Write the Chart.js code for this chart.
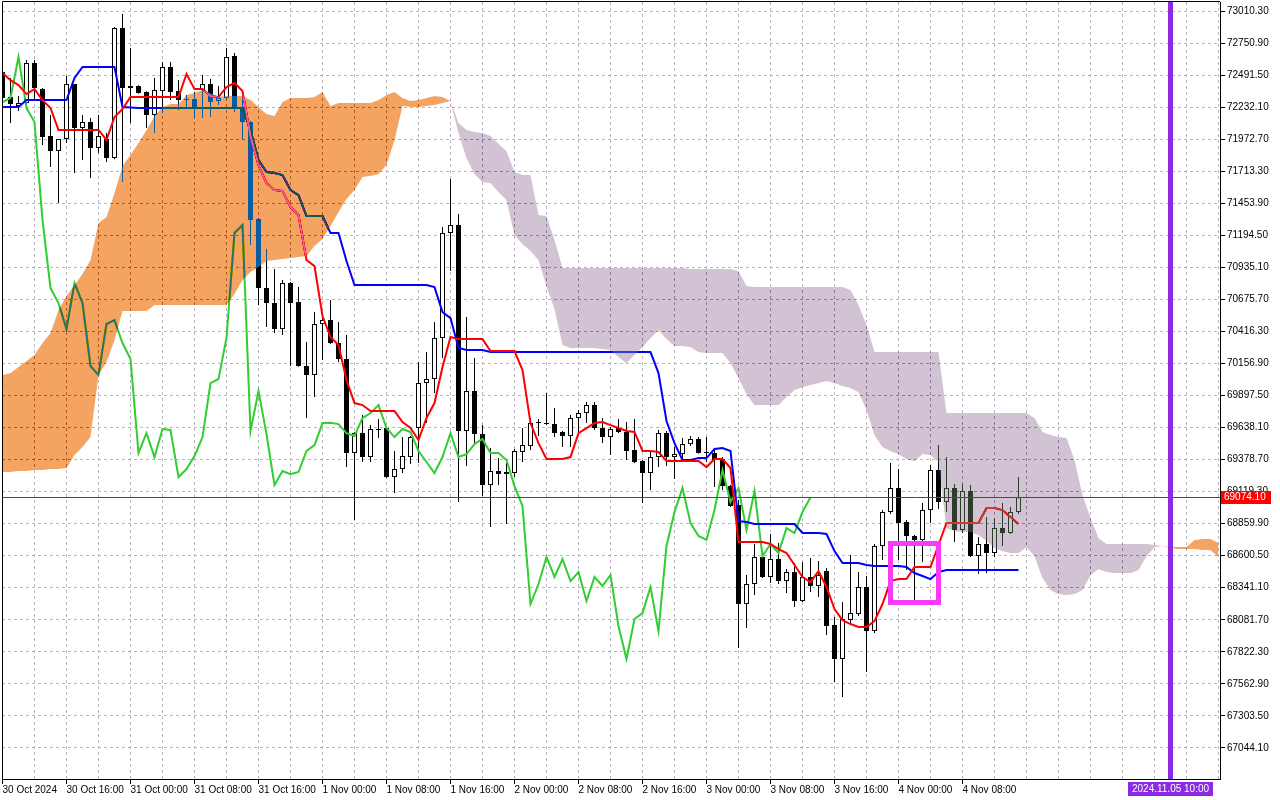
<!DOCTYPE html>
<html>
<head>
<meta charset="utf-8">
<title>BTCUSD H1 Ichimoku</title>
<script src="https://cdn.jsdelivr.net/npm/chart.js@4.4.1/dist/chart.umd.min.js"></script>
<style>
  html, body { margin: 0; padding: 0; background: #ffffff; }
  #wrap { width: 1280px; height: 800px; }
</style>
</head>
<body>
<div id="wrap"><canvas id="chart" width="1280" height="800"></canvas></div>
<script>
  // hourly candles, first bar = 30 Oct 08:00, last bar = 4 Nov 15:00
  const opens = [
    72516, 72314, 72241, 72265, 72589, 72378, 71998, 71877, 71974, 72419,
    72063, 72111, 71901, 71974, 71820, 72872, 72403, 72403, 72354, 72168,
    72362, 72557, 72362, 72297, 72297, 72370, 72419, 72281, 72306, 72646,
    72225, 72111, 71326, 70767, 70646, 70435, 70808, 70654, 70136, 70063,
    70476, 70508, 70322, 70193, 69432, 69593, 69399, 69626, 69634, 69237,
    69302, 69399, 69634, 69998, 70031, 70363, 71213, 71277, 69610, 69933,
    69585, 69172, 69286, 69261, 69270, 69440, 69488, 69674, 69674, 69666,
    69602, 69569, 69715, 69755, 69820, 69634, 69561, 69634, 69602, 69456,
    69367, 69270, 69399, 69593, 69399, 69423, 69504, 69545, 69440, 69432,
    69383, 69164, 69011, 68209, 68371, 68590, 68428, 68573, 68395, 68468,
    68233, 68428, 68355, 68476, 68039, 67764, 68080, 68128, 68347, 67990,
    68679, 68954, 69148, 68873, 68760, 68727, 68970, 69294, 69035, 69148,
    68808, 69124, 68598, 68695, 68622, 68824, 68784, 68954
  ];
  const highs = [
    72548, 72468, 72322, 72613, 72613, 72387, 72168, 71974, 72484, 72419,
    72168, 72144, 72168, 72022, 72880, 72986, 72710, 72410, 72360, 72468,
    72597, 72597, 72451, 72330, 72354, 72492, 72459, 72403, 72710, 72670,
    72314, 72115, 71330, 71083, 70921, 70832, 70816, 70775, 70330, 70573,
    70565, 70670, 70492, 70387, 69600, 69739, 69658, 69707, 69642, 69448,
    69561, 69569, 70168, 70249, 70492, 71261, 71650, 71366, 70533, 70201,
    69658, 69472, 69391, 69351, 69464, 69634, 69715, 69707, 69917, 69796,
    69610, 69739, 69780, 69844, 69844, 69715, 69642, 69707, 69682, 69707,
    69375, 69448, 69618, 69610, 69480, 69553, 69569, 69561, 69561, 69456,
    69399, 69172, 69051, 68444, 68695, 68598, 68776, 68703, 68492, 68541,
    68549, 68581, 68557, 68500, 68104, 68225, 68606, 68468, 68436, 68695,
    68970, 69351, 69302, 68889, 68768, 69027, 69334, 69496, 69399, 69181,
    69181, 69172, 68751, 68913, 68905, 69027, 68994, 69237
  ];
  const lows = [
    72257, 72103, 72200, 72208, 72289, 71925, 71747, 71456, 71941, 71698,
    71804, 71658, 71860, 71787, 71810, 71626, 72103, 72340, 72063, 72022,
    72184, 72289, 72208, 72225, 72144, 72144, 72152, 72249, 72289, 72192,
    71966, 71115, 70630, 70452, 70403, 70387, 70136, 70130, 69715, 69885,
    70184, 70314, 70168, 69318, 68889, 69359, 69359, 69553, 69230, 69108,
    69270, 69342, 69351, 69674, 69917, 70201, 70905, 69035, 69326, 69512,
    69083, 68832, 69172, 68857, 69237, 69359, 69456, 69569, 69658, 69561,
    69480, 69480, 69602, 69674, 69618, 69512, 69415, 69593, 69375, 69351,
    69027, 69132, 69318, 69326, 69221, 69375, 69488, 69425, 69359, 69156,
    69132, 68994, 67853, 68015, 68282, 68419, 68379, 68371, 68298, 68185,
    68225, 68306, 68266, 67958, 67577, 67456, 68047, 68112, 67658, 67974,
    68565, 68938, 68565, 68484, 68233, 68549, 68865, 68978, 68954, 68711,
    68784, 68590, 68452, 68460, 68590, 68679, 68776, 68938
  ];
  const closes = [
    72306, 72257, 72265, 72589, 72387, 71990, 71877, 71974, 72419, 72063,
    72111, 71901, 71998, 71820, 72872, 72387, 72387, 72346, 72168, 72370,
    72557, 72354, 72289, 72289, 72225, 72419, 72273, 72306, 72638, 72225,
    72111, 71318, 70767, 70646, 70435, 70808, 70646, 70136, 70063, 70476,
    70508, 70322, 70193, 69432, 69593, 69399, 69626, 69618, 69237, 69302,
    69407, 69561, 69998, 70031, 70363, 71213, 71277, 69610, 69933, 69585,
    69172, 69286, 69261, 69278, 69448, 69496, 69674, 69676, 69666, 69593,
    69569, 69715, 69755, 69820, 69634, 69561, 69626, 69602, 69448, 69359,
    69270, 69399, 69593, 69399, 69423, 69504, 69545, 69432, 69432, 69375,
    69164, 69002, 68209, 68371, 68590, 68428, 68573, 68395, 68468, 68234,
    68428, 68355, 68444, 68031, 67764, 68088, 68136, 68347, 67990, 68679,
    68954, 69148, 68865, 68760, 68728, 68970, 69294, 69035, 69148, 68808,
    69124, 68598, 68695, 68622, 68824, 68784, 68954, 69074.1
  ];

  // Ichimoku lines
  const tenkan = [
    72508, 72451, 72411, 72338, 72378, 72289, 72225, 72047, 72047, 72047,
    72047, 72047, 72047, 71966, 72152, 72217, 72314, 72314, 72314, 72314,
    72314, 72314, 72314, 72500, 72378, 72378, 72322, 72314, 72395, 72427,
    72362, 71998, 71763, 71617, 71561, 71553, 71423, 71358, 70994, 70945,
    70541, 70371, 70306, 70023, 69836, 69820, 69772, 69772, 69772, 69772,
    69682, 69634, 69537, 69715, 69836, 70128, 70371, 70354, 70354, 70354,
    70354, 70257, 70257, 70257, 70257, 70103, 69674, 69512, 69383, 69383,
    69383, 69399, 69593, 69634, 69674, 69682, 69658, 69634, 69610, 69602,
    69448, 69448, 69440, 69367, 69367, 69367, 69367, 69367, 69318, 69383,
    69383, 69310, 68711, 68711, 68711, 68711, 68695, 68654, 68622, 68525,
    68428, 68387, 68476, 68347, 68168, 68079, 68047, 68023, 68023, 68071,
    68209, 68395, 68411, 68411, 68509, 68509, 68509, 68687, 68865, 68865,
    68865, 68865, 68865, 68986, 68986, 68970, 68913, 68857
  ];
  const kijun = [
    72233, 72233, 72233, 72289, 72289, 72289, 72289, 72289, 72289, 72468,
    72557, 72557, 72557, 72557, 72557, 72233, 72229, 72225, 72225, 72225,
    72225, 72225, 72225, 72225, 72225, 72225, 72225, 72225, 72225, 72225,
    72225, 72047, 71804, 71706, 71698, 71682, 71561, 71520, 71350, 71350,
    71350, 71213, 71213, 70986, 70792, 70792, 70792, 70792, 70792, 70792,
    70792, 70792, 70792, 70792, 70775, 70573, 70524, 70282, 70265, 70265,
    70265, 70249, 70249, 70249, 70249, 70249, 70249, 70249, 70249, 70249,
    70249, 70249, 70249, 70249, 70249, 70249, 70249, 70249, 70249, 70249,
    70249, 70249, 70079, 69691, 69512, 69375, 69375, 69391, 69391, 69464,
    69472, 69448, 68881, 68873, 68857, 68857, 68857, 68857, 68857, 68857,
    68784, 68784, 68784, 68776, 68638, 68541, 68541, 68541, 68525, 68517,
    68517, 68517, 68517, 68509, 68460, 68436, 68411, 68468, 68484, 68484,
    68484, 68484, 68484, 68484, 68484, 68484, 68484, 68484
  ];
  const chikou = [
    72273, 72306, 72638, 72225, 72111, 71318, 70767, 70646, 70435, 70808,
    70646, 70136, 70063, 70476, 70508, 70322, 70193, 69432, 69593, 69399,
    69626, 69618, 69237, 69302, 69407, 69561, 69998, 70031, 70363, 71213,
    71277, 69610, 69933, 69585, 69172, 69286, 69261, 69278, 69448, 69496,
    69674, 69676, 69666, 69593, 69569, 69715, 69755, 69820, 69634, 69561,
    69626, 69602, 69448, 69359, 69270, 69399, 69593, 69399, 69423, 69504,
    69545, 69432, 69432, 69375, 69164, 69002, 68209, 68371, 68590, 68428,
    68573, 68395, 68468, 68234, 68428, 68355, 68444, 68031, 67764, 68088,
    68136, 68347, 67990, 68679, 68954, 69148, 68865, 68760, 68728, 68970,
    69294, 69035, 69148, 68808, 69124, 68598, 68695, 68622, 68824, 68784,
    68954, 69074.1
  ];
  const spanA = [
    70063, 70079, 70128, 70176, 70225, 70322, 70403, 70589, 70703, 70792,
    70881, 70994, 71294, 71342, 71536, 71755, 71844, 71941, 72047, 72160,
    72233, 72257, 72257, 72330, 72346, 72370, 72346, 72314, 72322, 72322,
    72322, 72289, 72233, 72176, 72160, 72273, 72306, 72306, 72306, 72314,
    72354, 72241, 72265, 72265, 72265, 72265, 72265, 72289, 72330, 72354,
    72306, 72281, 72289, 72306, 72322, 72314, 72281, 72022, 71820, 71690,
    71626, 71617, 71545, 71480, 71196, 71124, 71067, 70994, 70783, 70597,
    70306, 70282, 70282, 70282, 70282, 70274, 70265, 70209, 70160, 70225,
    70290, 70363, 70427, 70354, 70298, 70298, 70290, 70249, 70241, 70241,
    70241, 70160, 70039, 69909, 69820, 69820, 69820, 69820, 69885, 69942,
    69966, 69982, 69998, 70014, 69998, 69974, 69958, 69925, 69780, 69577,
    69480, 69448, 69423, 69383, 69367, 69423, 69415, 69359, 68824, 68800,
    68792, 68792, 68768, 68719, 68662, 68638, 68622, 68622, 68670, 68598,
    68420, 68322, 68290, 68282, 68290, 68322, 68444, 68492, 68468, 68460,
    68460, 68460, 68484, 68598, 68670, 68679, 68670, 68670, 68670, 68727,
    68735, 68735, 68703
  ];
  const spanB = [
    69278, 69278, 69286, 69286, 69294, 69294, 69302, 69302, 69310, 69415,
    69480, 69561, 70063, 70168, 70346, 70581, 70581, 70581, 70581, 70630,
    70630, 70630, 70630, 70630, 70630, 70630, 70630, 70630, 70630, 70719,
    70832, 70897, 70937, 70986, 70994, 71002, 71010, 71018, 71026, 71107,
    71164, 71269, 71383, 71488, 71561, 71666, 71674, 71690, 71763, 71966,
    72241, 72233, 72233, 72241, 72249, 72265, 72281, 72103, 72047, 72030,
    72022, 71998, 71933, 71877, 71706, 71682, 71682, 71358, 71350, 71156,
    70929, 70929, 70929, 70929, 70929, 70929, 70929, 70929, 70929, 70929,
    70929, 70929, 70929, 70929, 70929, 70929, 70921, 70921, 70921, 70921,
    70921, 70921, 70905, 70783, 70775, 70775, 70775, 70775, 70775, 70775,
    70775, 70775, 70775, 70775, 70775, 70775, 70751, 70630, 70468, 70249,
    70249, 70249, 70249, 70249, 70249, 70249, 70249, 70249, 69755, 69755,
    69755, 69755, 69755, 69755, 69755, 69755, 69755, 69755, 69755, 69715,
    69602, 69577, 69561, 69553, 69375, 69092, 68905, 68743, 68695, 68695,
    68695, 68695, 68695, 68695, 68687, 68679, 68663, 68654, 68654, 68654,
    68646, 68646, 68590
  ];

  const timeLabels = [
    "30 Oct 2024", "30 Oct 16:00", "31 Oct 00:00", "31 Oct 08:00", "31 Oct 16:00",
    "1 Nov 00:00", "1 Nov 08:00", "1 Nov 16:00", "2 Nov 00:00", "2 Nov 08:00",
    "2 Nov 16:00", "3 Nov 00:00", "3 Nov 08:00", "3 Nov 16:00", "4 Nov 00:00", "4 Nov 08:00"
  ];
  const priceTicks = [
    73010.30, 72750.90, 72491.50, 72232.10, 71972.70, 71713.30, 71453.90, 71194.50,
    70935.10, 70675.70, 70416.30, 70156.90, 69897.50, 69638.10, 69378.70, 69119.30,
    68859.90, 68600.50, 68341.10, 68081.70, 67822.30, 67562.90, 67303.50, 67044.10
  ];
  const lastPrice = 69074.10;
  const markerBar = 146;                 // 2024.11.05 10:00
  const markerLabel = "2024.11.05 10:00";
  const boxBars = [111, 117];            // magenta rectangle, bar range
  const boxPrices = [68707, 68222];      // magenta rectangle, price range

  const BARS_PER_LABEL = 8;
  const GRID_STEP = 4;
  const FUTURE_BARS = 152;

  const FONT = '"Liberation Sans", Arial, sans-serif';
  Chart.defaults.font.family = FONT;
  Chart.defaults.font.size = 10;
  Chart.defaults.color = '#000000';

  const asPoints = arr => arr.map((v, i) => ({ x: i, y: v }));
  const wickData = lows.map((l, i) => ({ x: i, y: [l, highs[i]] }));
  const bodyData = opens.map((o, i) => ({ x: i, y: [o, closes[i]] }));
  const bodyFill = opens.map((o, i) => closes[i] >= o ? '#ffffff' : '#000000');

  const gridColor = 'rgb(188,182,194)';

  // MT5 paints the cloud in XOR mode; "difference" gives the same colours
  const mt5Look = {
    id: 'mt5Look',
    beforeDraw(chart) {
      const c = chart.ctx;
      c.save();
      c.fillStyle = '#ffffff';
      c.fillRect(0, 0, chart.width, chart.height);
      c.restore();
    },
    beforeDatasetDraw(chart, args) {
      if (args.index === 5) chart.ctx.globalCompositeOperation = 'difference';
    },
    afterDatasetDraw(chart, args) {
      if (args.index === 6) chart.ctx.globalCompositeOperation = 'source-over';
    },
    afterDatasetsDraw(chart) {
      const { ctx, chartArea: a, scales: { x, y } } = chart;
      ctx.save();
      ctx.globalCompositeOperation = 'source-over';

      // bid line
      const py = Math.round(y.getPixelForValue(lastPrice)) + 0.5;
      ctx.strokeStyle = '#ff0000';
      ctx.lineWidth = 1;
      ctx.beginPath();
      ctx.moveTo(a.left, py);
      ctx.lineTo(a.right, py);
      ctx.stroke();

      // rectangle object
      const rx0 = x.getPixelForValue(boxBars[0]);
      const rx1 = x.getPixelForValue(boxBars[1]);
      const ry0 = Math.round(y.getPixelForValue(boxPrices[0])) + 0.5;
      const ry1 = Math.round(y.getPixelForValue(boxPrices[1])) + 0.5;
      ctx.strokeStyle = 'rgb(250,60,250)';
      ctx.lineWidth = 5;
      ctx.strokeRect(rx0, ry0, rx1 - rx0, ry1 - ry0);

      // vertical line
      const vx = x.getPixelForValue(markerBar);
      ctx.strokeStyle = 'rgb(138,43,226)';
      ctx.lineWidth = 5;
      ctx.beginPath();
      ctx.moveTo(vx, a.top);
      ctx.lineTo(vx, a.bottom);
      ctx.stroke();

      // left / top frame
      ctx.strokeStyle = '#000000';
      ctx.lineWidth = 1;
      ctx.beginPath();
      ctx.moveTo(a.left + 0.5, a.bottom);
      ctx.lineTo(a.left + 0.5, a.top - 0.5);
      ctx.lineTo(a.right, a.top - 0.5);
      ctx.stroke();
      ctx.restore();
    },
    afterDraw(chart) {
      const { ctx, chartArea: a, scales: { x, y } } = chart;
      ctx.save();
      ctx.font = '10px ' + FONT;
      ctx.textBaseline = 'middle';

      // price label
      const py = Math.round(y.getPixelForValue(lastPrice));
      ctx.fillStyle = '#ff0000';
      ctx.fillRect(a.right + 1, py - 6, 50, 13);
      ctx.fillStyle = '#ffffff';
      ctx.textAlign = 'left';
      ctx.fillText(lastPrice.toFixed(2), a.right + 4, py + 0.5);

      // time label
      const vx = x.getPixelForValue(markerBar);
      const w = ctx.measureText(markerLabel).width + 8;
      ctx.fillStyle = 'rgb(138,43,226)';
      ctx.fillRect(Math.round(vx - w / 2), a.bottom + 3, Math.round(w), 14);
      ctx.fillStyle = '#ffffff';
      ctx.textAlign = 'center';
      ctx.fillText(markerLabel, vx, a.bottom + 10.5);
      ctx.restore();
    }
  };

  const lineBase = { type: 'line', pointRadius: 0, borderWidth: 2, tension: 0, clip: 0, fill: false };

  new Chart(document.getElementById('chart'), {
    type: 'bar',
    data: {
      datasets: [
        { type: 'bar', label: 'wick', data: wickData, backgroundColor: '#000000', borderWidth: 0,
          barThickness: 1, grouped: false, inflateAmount: 0, order: 6, clip: 0 },
        { type: 'bar', label: 'body', data: bodyData, backgroundColor: bodyFill, borderColor: '#000000',
          borderWidth: 1, borderSkipped: false, barThickness: 5, minBarLength: 1, grouped: false,
          inflateAmount: 0, order: 5, clip: 0 },
        { ...lineBase, label: 'Chikou Span', data: asPoints(chikou), borderColor: 'rgb(50,205,50)', order: 4 },
        { ...lineBase, label: 'Kijun-sen', data: asPoints(kijun), borderColor: 'rgb(0,0,255)', order: 3 },
        { ...lineBase, label: 'Tenkan-sen', data: asPoints(tenkan), borderColor: 'rgb(255,0,0)', order: 2 },
        { ...lineBase, label: 'Senkou Span A', data: asPoints(spanA), borderWidth: 0, order: 1 },
        { ...lineBase, label: 'Senkou Span B', data: asPoints(spanB), borderWidth: 0, order: 0,
          fill: { target: 5, above: 'rgb(45,60,43)', below: 'rgb(11,91,159)' } }
      ]
    },
    options: {
      responsive: false,
      devicePixelRatio: 1,
      animation: false,
      events: [],
      layout: { padding: { left: 2, top: 2, right: 0, bottom: 0 } },
      plugins: { legend: { display: false }, tooltip: { enabled: false } },
      scales: {
        x: {
          type: 'linear',
          offset: false,
          min: -0.0625,
          max: FUTURE_BARS + 0.1875,
          grid: {
            offset: false,
            color: gridColor,
            tickLength: 5,
            tickColor: c => (c.tick && c.tick.value % BARS_PER_LABEL === 0 &&
              c.tick.value / BARS_PER_LABEL < timeLabels.length) ? '#000000' : 'rgba(0,0,0,0)'
          },
          border: { color: '#000000', width: 1, dash: [3, 3] },
          ticks: {
            autoSkip: false,
            maxRotation: 0,
            minRotation: 0,
            align: 'start',
            padding: 0,
            color: '#000000',
            font: { size: 10 },
            callback: v => {
              const k = v / BARS_PER_LABEL;
              return (Number.isInteger(k) && k < timeLabels.length) ? timeLabels[k] : '';
            }
          },
          afterBuildTicks: s => {
            const t = [];
            for (let v = 0; v <= FUTURE_BARS; v += GRID_STEP) t.push({ value: v });
            s.ticks = t;
          },
          afterFit: s => { s.height = 21; s.paddingLeft = 0; s.paddingRight = 0; }
        },
        y: {
          position: 'right',
          min: 66792.5,
          max: 73083.2,
          grid: { color: gridColor, tickLength: 5, tickColor: '#000000' },
          border: { color: '#000000', width: 1, dash: [3, 3] },
          ticks: {
            autoSkip: false,
            padding: 2,
            color: '#000000',
            font: { size: 10 },
            callback: v => Number(v).toFixed(2)
          },
          afterBuildTicks: s => { s.ticks = priceTicks.map(v => ({ value: v })); },
          afterFit: s => { s.width = 60; s.paddingTop = 0; s.paddingBottom = 0; }
        }
      }
    },
    plugins: [mt5Look]
  });
</script>
</body>
</html>
